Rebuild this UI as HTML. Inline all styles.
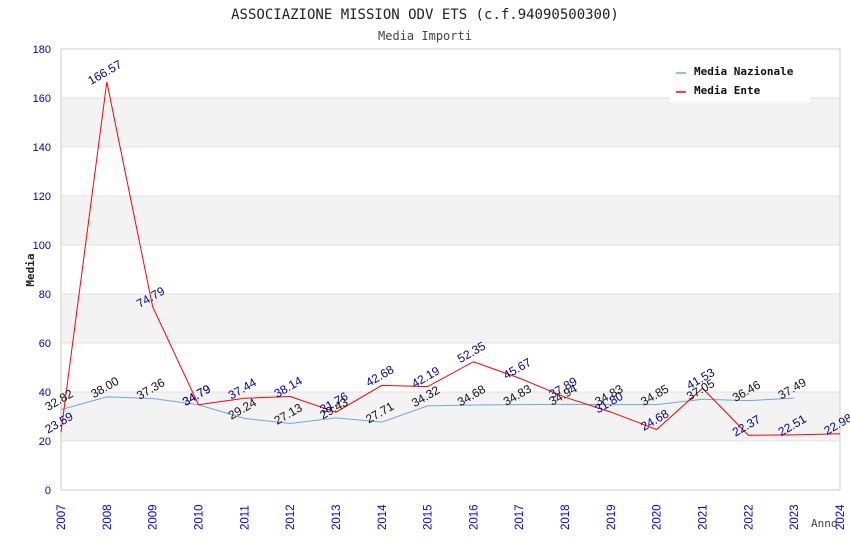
<!DOCTYPE html>
<html><head><meta charset="utf-8"><style>
body{margin:0;background:#fff;width:850px;height:550px;overflow:hidden;font-family:"DejaVu Sans Mono","Liberation Mono",monospace}
</style></head><body>
<svg width="850" height="550" id="chart">
<text x="425" y="19" text-anchor="middle" font-size="14" fill="#222" font-family="DejaVu Sans Mono, monospace">ASSOCIAZIONE MISSION ODV ETS (c.f.94090500300)</text>
<text x="425" y="40" text-anchor="middle" font-size="12" fill="#444" font-family="DejaVu Sans Mono, monospace">Media Importi</text>
<g id="grid"></g><g id="axes"></g><g id="series"></g><g id="labels"></g>
<text transform="translate(34,270) rotate(-90)" text-anchor="middle" font-size="11" font-weight="bold" fill="#222">Media</text>
<text x="811" y="527" font-size="11" fill="#444">Anno</text>
<g>
<rect x="670" y="58" width="140" height="44" fill="#fff"/>
<line x1="676" y1="73" x2="686" y2="73" stroke="#6aa8ee" stroke-width="1.5"/>
<text x="694" y="75" font-size="11" font-weight="bold" fill="#111">Media Nazionale</text>
<line x1="676" y1="92" x2="686" y2="92" stroke="#f00" stroke-width="1.5"/>
<text x="694" y="94" font-size="11" font-weight="bold" fill="#111">Media Ente</text>
</g>
</svg>
<script>
const years=[2007,2008,2009,2010,2011,2012,2013,2014,2015,2016,2017,2018,2019,2020,2021,2022,2023,2024];
const nazionale=[32.82,38.00,37.36,34.79,29.24,27.13,29.43,27.71,34.32,34.68,34.83,34.94,34.83,34.85,37.05,36.46,37.49];
const ente=[23.59,166.57,74.79,34.79,37.44,38.14,31.76,42.68,42.19,52.35,45.67,37.89,31.80,24.68,41.53,22.37,22.51,22.98];
const yTicks=[0,20,40,60,80,100,120,140,160,180];
const NS="http://www.w3.org/2000/svg";
const X0=61,X1=840,Y0=490,Y1=49,YMAX=180;
const xs=i=>X0+i*(X1-X0)/(years.length-1);
const ys=v=>Y0-v*(Y0-Y1)/YMAX;
function mk(t,a,p){const e=document.createElementNS(NS,t);for(const k in a)e.setAttribute(k,a[k]);document.getElementById(p).appendChild(e);return e;}
for(let i=0;i<yTicks.length-1;i++){
 const r=mk('rect',{x:X0,y:ys(yTicks[i+1]),width:X1-X0,height:ys(yTicks[i])-ys(yTicks[i+1]),fill:i%2==1?'#f3f3f3':'#fff'},'grid');
 
 
}
yTicks.forEach(v=>{
 const l=mk('line',{x1:X0,x2:X1,y1:ys(v),y2:ys(v),stroke:'#e0e0e0'},'grid');
 
 
 const t=mk('text',{x:X0-10,y:ys(v)+4,'text-anchor':'end','font-size':11,fill:'#0000cc','font-family':'Liberation Sans, sans-serif'},'axes');
 t.textContent=v;
 
 
});
const fr=mk('rect',{x:X0,y:Y1,width:X1-X0,height:Y0-Y1,fill:'none',stroke:'#ccc'},'axes');


years.forEach((y,i)=>{
 const t=mk('text',{transform:`translate(${xs(i)+4},${530}) rotate(-90)`,'font-size':11.5,fill:'#0000ff','font-family':'Liberation Sans, sans-serif'},'axes');
 t.textContent=y;
 
 
});
function series(vals,color,name,lc){
 const p=mk('polyline',{points:vals.map((v,i)=>xs(i)+','+ys(v)).join(' '),fill:'none',stroke:color,'stroke-width':1},'series');
 
 
 vals.forEach((v,i)=>{
  const x=xs(i),y=ys(v)-6;
  const t=mk('text',{transform:`translate(${x},${y}) rotate(-30)`,'text-anchor':'middle','font-size':12,fill:lc,'font-family':'Liberation Sans, sans-serif'},'labels');
  t.textContent=v.toFixed(2);
  
  
 });
}
series(nazionale,'#6aa8ee','line-media-nazionale','#111');
series(ente,'#ff0000','line-media-ente','#000099');
</script>
</body></html>
